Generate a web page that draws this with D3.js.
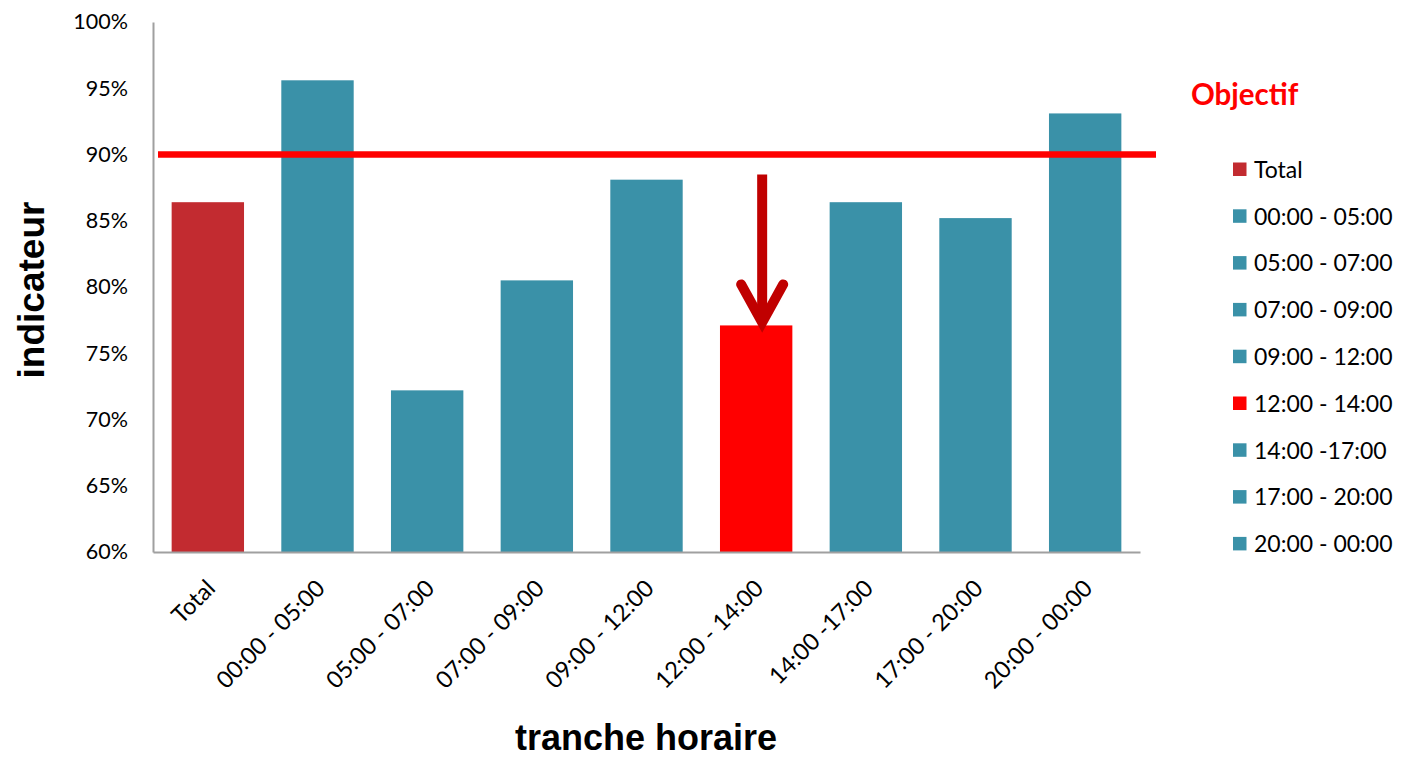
<!DOCTYPE html>
<html>
<head>
<meta charset="utf-8">
<script src="https://cdn.jsdelivr.net/npm/d3@7"></script>
<style>
  html, body { margin: 0; padding: 0; background: #fff; }
  svg { display: block; }
</style>
</head>
<body>
<svg id="chart" width="1412" height="758"></svg>
<script>
// ---- data ----
const categories = ["Total", "00:00 - 05:00", "05:00 - 07:00", "07:00 - 09:00", "09:00 - 12:00",
                    "12:00 - 14:00", "14:00 -17:00", "17:00 - 20:00", "20:00 - 00:00"];
const values = [0.864, 0.956, 0.722, 0.805, 0.881, 0.771, 0.864, 0.852, 0.931];
const barColors = ["#C22B30", "#3A91A8", "#3A91A8", "#3A91A8", "#3A91A8",
                   "#FF0000", "#3A91A8", "#3A91A8", "#3A91A8"];
const yTicks = [0.60, 0.65, 0.70, 0.75, 0.80, 0.85, 0.90, 0.95, 1.00];
const objective = 0.90;
const objectiveLabel = "Objectif";
const highlightIndex = 5;
const arrowStart = 0.885;
const xTitle = "tranche horaire";
const yTitle = "indicateur";

// ---- layout ----
const svg = d3.select("#chart");
const plot = { left: 153, right: 1140, top: 22, bottom: 552 };
const tickFont = "Lato, 'Open Sans', sans-serif";

const x = d3.scaleBand().domain(categories).range([plot.left, plot.right]).paddingInner(0.34).paddingOuter(0.17);
const y = d3.scaleLinear().domain([0.6, 1.0]).range([plot.bottom, plot.top]);

// bars
svg.append("g").selectAll("rect").data(categories).join("rect")
  .attr("x", d => x(d))
  .attr("width", x.bandwidth())
  .attr("y", (d, i) => y(values[i]))
  .attr("height", (d, i) => y(0.6) - y(values[i]))
  .attr("fill", (d, i) => barColors[i]);

// y axis
const yAxis = d3.axisLeft(y).tickValues(yTicks).tickSize(0).tickPadding(25)
  .tickFormat(d => Math.round(d * 100) + "%");
const gy = svg.append("g").attr("transform", `translate(${plot.left},0)`).call(yAxis);
gy.select(".domain").attr("stroke", "#A0A0A0").attr("stroke-width", 2);
gy.selectAll("text").attr("font-family", tickFont).attr("font-size", 21.5).attr("fill", "#000");

// x axis
const xAxis = d3.axisBottom(x).tickSize(0).tickSizeOuter(0);
const gx = svg.append("g").attr("transform", `translate(0,${plot.bottom})`).call(xAxis);
gx.select(".domain").attr("stroke", "#A0A0A0").attr("stroke-width", 2);
gx.selectAll("text")
  .attr("font-family", tickFont).attr("font-size", 23.5).attr("fill", "#000")
  .attr("text-anchor", "end")
  .attr("dy", "0.35em")
  .attr("transform", "translate(3,32) rotate(-45)")
  .attr("y", 0).attr("x", 0);

// objective line
svg.append("line")
  .attr("x1", plot.left + 5).attr("x2", plot.right + 16)
  .attr("y1", y(objective)).attr("y2", y(objective))
  .attr("stroke", "#FF0000").attr("stroke-width", 6.5);

svg.append("text")
  .attr("x", 1191).attr("y", 105)
  .attr("font-family", tickFont).attr("font-weight", "bold").attr("font-size", 29.5)
  .attr("fill", "#FF0000").text(objectiveLabel);

// arrow
const ax = x(categories[highlightIndex]) + x.bandwidth() / 2 + 6;
const aTop = y(arrowStart);
const aTip = y(values[highlightIndex]) - 3;
const arrowG = svg.append("g").attr("stroke", "#C00000").attr("fill", "none");
arrowG.append("line").attr("x1", ax).attr("x2", ax).attr("y1", aTop).attr("y2", aTip - 4)
  .attr("stroke-width", 10);
arrowG.append("path")
  .attr("d", `M${ax - 21},${aTip - 38} L${ax},${aTip} L${ax + 21},${aTip - 38}`)
  .attr("stroke-width", 10).attr("stroke-linecap", "round").attr("stroke-linejoin", "miter");

// legend
const legend = svg.append("g").attr("transform", "translate(1233,169.5)");
const li = legend.selectAll("g").data(categories).join("g")
  .attr("transform", (d, i) => `translate(0,${i * 46.8})`);
li.append("rect").attr("x", 0).attr("y", -7).attr("width", 13.5).attr("height", 13.5)
  .attr("fill", (d, i) => barColors[i]);
li.append("text").attr("x", 21).attr("y", 0).attr("dy", "0.36em")
  .attr("font-family", tickFont).attr("font-size", 23).attr("fill", "#000")
  .text(d => d);

// axis titles
svg.append("text")
  .attr("x", 646).attr("y", 750)
  .attr("text-anchor", "middle")
  .attr("font-family", "'Liberation Sans', Arial, sans-serif").attr("font-weight", "bold")
  .attr("font-size", 36).attr("fill", "#000").text(xTitle);

svg.append("text")
  .attr("transform", "translate(44,290) rotate(-90)")
  .attr("text-anchor", "middle")
  .attr("font-family", "'Liberation Sans', Arial, sans-serif").attr("font-weight", "bold")
  .attr("font-size", 37).attr("fill", "#000").text(yTitle);
</script>
</body>
</html>
